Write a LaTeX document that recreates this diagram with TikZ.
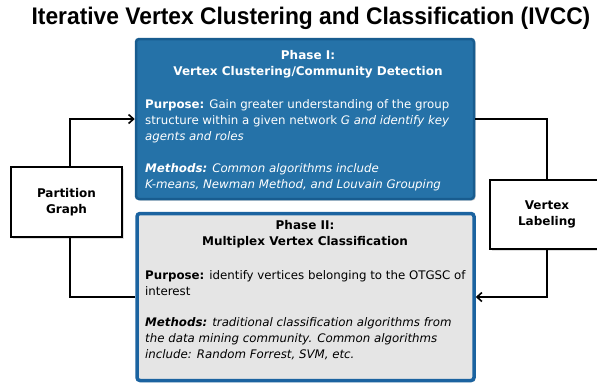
\documentclass[tikz,border=0pt]{standalone}
\usepackage{fontspec}
\usepackage{graphicx}
\setmainfont{DejaVu Sans}
\newfontfamily\titlefont{Liberation Sans}
\usetikzlibrary{arrows.meta,shadows}

\definecolor{phaseblue}{HTML}{2572A8}
\definecolor{phaseedge}{HTML}{185C8F}
\definecolor{phasetwoedge}{HTML}{1B63A0}
\definecolor{phasegray}{HTML}{E5E5E5}

\tikzset{
  bodytext/.style={font=\fontsize{11.8}{15.8}\selectfont, inner sep=0pt, align=left},
  headtext/.style={font=\fontsize{12}{15.5}\selectfont\bfseries, inner sep=0pt, align=center},
  phaseone/.style={draw=phaseedge, line width=2.5pt, fill=phaseblue, rounded corners=3pt,
    drop shadow={shadow xshift=1.5pt, shadow yshift=-1.5pt, opacity=0.35}},
  phasetwo/.style={draw=phasetwoedge, line width=3.5pt, fill=phasegray, rounded corners=3pt,
    drop shadow={shadow xshift=1.5pt, shadow yshift=-1.5pt, opacity=0.35}},
  stepbox/.style={draw=black, line width=1.8pt, fill=white, align=center,
    font=\fontsize{12}{15.5}\selectfont\bfseries,
    drop shadow={shadow xshift=1.5pt, shadow yshift=-1.5pt, opacity=0.25}},
  conn/.style={draw=black, line width=1.8pt},
  tip/.style={-{Straight Barb[length=5pt, width=9pt, line width=1.6pt]}}
}

\begin{document}
\begin{tikzpicture}[x=1pt, y=-1pt]
  \clip (0,0) rectangle (597,384);
  \fill[white] (0,0) rectangle (597,384);

  % title
  \node[inner sep=0pt, font=\titlefont\bfseries\fontsize{24}{24}\selectfont] (title) at (311,18)
    {\scalebox{0.95}[1]{Iterative Vertex Clustering and Classification (IVCC)}};

  % phase boxes
  \node[phaseone, minimum width=338pt, minimum height=160pt] (p1) at (305,119) {};
  \node[phasetwo, minimum width=337pt, minimum height=167pt] (p2) at (305.5,297) {};

  % side boxes
  \node[stepbox, minimum width=111pt, minimum height=70pt] (pg) at (66.5,202) {Partition\\Graph};
  \node[stepbox, minimum width=114pt, minimum height=69pt] (vl) at (547,214.5) {Vertex\\Labeling};

  % phase I text (base anchor = baseline of the last line)
  \node[headtext, text=white, anchor=base] (p1head) at (308,75) {Phase I:\\Vertex Clustering/Community Detection};
  \node[bodytext, text=white, anchor=base west] (p1purpose) at (145,140)
    {\textbf{Purpose:} Gain greater understanding of the group\\
     structure within a given network \textit{G and identify key}\\
     \textit{agents and roles}};
  \node[bodytext, text=white, anchor=base west] (p1methods) at (145,188)
    {\textbf{\textit{Methods:}} \textit{Common algorithms include}\\
     \textit{K-means, Newman Method, and Louvain Grouping}};

  % phase II text
  \node[headtext, text=black, anchor=base] (p2head) at (305,245) {Phase II:\\Multiplex Vertex Classification};
  \node[bodytext, text=black, anchor=base west] (p2purpose) at (145,295)
    {\textbf{Purpose:} identify vertices belonging to the OTGSC of\\
     interest};
  \node[bodytext, text=black, anchor=base west] (p2methods) at (145,358)
    {\textbf{\textit{Methods:}} \textit{traditional classification algorithms from}\\
     \textit{the data mining community. Common algorithms}\\
     \textit{include: Random Forrest, SVM, etc.}};

  % connectors
  \draw[conn, tip] ([xshift=3.5pt]pg.north) |- (p1.west);
  \draw[conn] ([xshift=3.5pt]pg.south) |- (p2.west);
  \draw[conn] (p1.east) -| (vl.north);
  \draw[conn, tip] (vl.south) |- (p2.east);
\end{tikzpicture}
\end{document}
